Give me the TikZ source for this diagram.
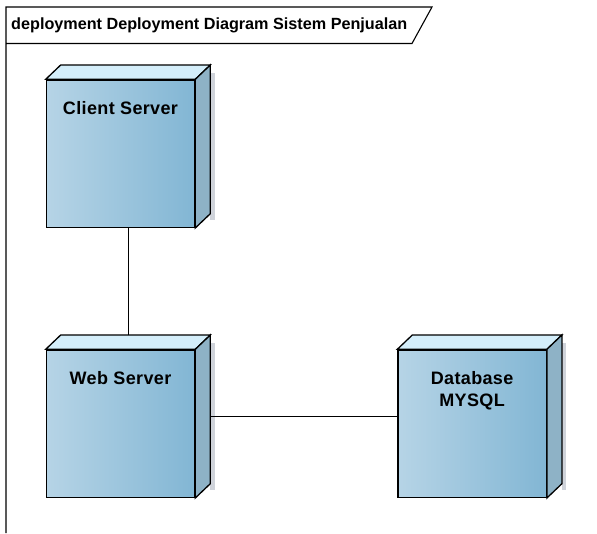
\documentclass[tikz,border=0pt]{standalone}
\usepackage{fontspec}
\setmainfont{Liberation Sans}
\usetikzlibrary{calc}
\definecolor{topc}{HTML}{D4EEFA}
\definecolor{frontL}{HTML}{B6D4E6}
\definecolor{frontR}{HTML}{82B6D4}
\definecolor{sidec}{HTML}{8EB2C6}
\definecolor{shadowc}{HTML}{CFD3DA}
\begin{document}
\begin{tikzpicture}[x=1pt,y=-1pt,
  frontface/.style={draw=black, line width=1.3pt, left color=frontL, right color=frontR,
    minimum width=148.3pt, minimum height=147.4pt, inner sep=0pt, anchor=north west},
  depthface/.style={draw=black, line width=1.3pt, line join=miter},
  nodetext/.style={font=\bfseries\fontsize{18}{22}\selectfont\addfontfeature{LetterSpace=2}, align=center, anchor=north, inner sep=0pt},
  conn/.style={draw=black, line width=1pt},
  framel/.style={draw=black, line width=1.1pt}]
\useasboundingbox (0,0) rectangle (597,533);
% frame
\draw[framel] (6,533) -- (6,7) -- (432,7) -- (412,43.5) -- (6,43.5);
\node[anchor=west, inner sep=0pt, font=\bfseries\fontsize{16.2}{19}\selectfont] (title) at (11,25.5) {deployment Deployment Diagram Sistem Penjualan};
% nodes
\foreach \n/\x/\y in {cs/45.7/79.3, ws/45.7/349.3, db/397.3/349.3} {
  \node[frontface] (\n) at (\x,\y) {};
  \fill[shadowc] ($(\n.north east)+(15,-6)$) rectangle ($(\n.south east)+(19.5,-8.5)$);
  \filldraw[depthface, fill=topc] (\n.north west) -- ++(15,-14.3) -- ($(\n.north east)+(15,-14.3)$) -- (\n.north east) -- cycle;
  \filldraw[depthface, fill=sidec] (\n.north east) -- ++(15,-14.3) -- ($(\n.south east)+(15,-14.3)$) -- (\n.south east) -- cycle;
}
\node[nodetext] (cst) at ($(cs.north)+(0,21.5)$) {Client Server};
\node[nodetext] (wst) at ($(ws.north)+(0,21.5)$) {Web Server};
\node[nodetext] (dbt) at ($(db.north)+(0,21.5)$) {Database\\MYSQL};
% connectors
\coordinate (csb) at ($(cs.south)+(7.5,0)$);
\coordinate (wstop) at ($(ws.north)+(7.5,-14.3)$);
\coordinate (wsside) at ($(ws.east)+(15,-7.2)$);
\coordinate (dbside) at ($(db.west)+(0,-7.2)$);
\draw[conn] (csb) -- (wstop);
\draw[conn] (wsside) -- (dbside);
\end{tikzpicture}
\end{document}
